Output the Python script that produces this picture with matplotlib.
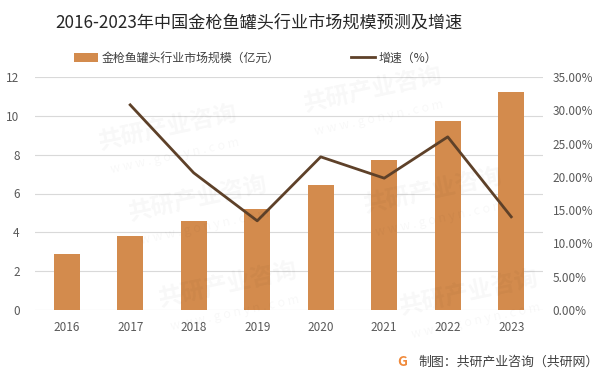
import matplotlib
matplotlib.use("Agg")
import matplotlib.pyplot as plt
import numpy as np

plt.rcParams['font.family'] = ['Noto Sans CJK SC', 'DejaVu Sans']

years = ['2016', '2017', '2018', '2019', '2020', '2021', '2022', '2023']
market_size = [2.9, 3.83, 4.6, 5.22, 6.45, 7.73, 9.74, 11.2]
growth = [np.nan, 30.8, 20.6, 13.4, 23.0, 19.8, 26.0, 14.0]

bar_color = '#D38B4D'
line_color = '#5E4129'
tick_color = '#595959'

fig = plt.figure(figsize=(6.02, 3.75), dpi=100)

# faint watermark
wm_pos = [(0.28, 0.66), (0.62, 0.76), (0.33, 0.47), (0.72, 0.49), (0.38, 0.24), (0.78, 0.22)]
for x, y in wm_pos:
    fig.text(x, y, '共研产业咨询', fontsize=17, fontweight='bold', color='#000000',
             alpha=0.03, rotation=12, ha='center', va='center')
    fig.text(x + 0.01, y - 0.075, 'w w w . g o n y n . c o m', fontsize=9, color='#000000',
             alpha=0.03, rotation=12, ha='center', va='center')

ax = fig.add_axes([0.058, 0.173, 0.844, 0.622])
x = np.arange(len(years))
ax.bar(x, market_size, width=0.41, color=bar_color, zorder=2,
       label='金枪鱼罐头行业市场规模（亿元）')
ax.set_xlim(-0.5, len(years) - 0.5)
ax.set_ylim(0, 12)
ax.set_yticks(np.arange(0, 13, 2))
ax.grid(axis='y', color='#D9D9D9', linewidth=0.8, zorder=0)
ax.set_axisbelow(True)
for s in ax.spines.values():
    s.set_visible(False)
ax.set_xticks(x)
ax.set_xticklabels(years)
ax.tick_params(length=0, colors=tick_color, labelsize=8.5)
ax.tick_params(axis='x', pad=8)
ax.tick_params(axis='y', pad=11)

ax2 = ax.twinx()
ax2.plot(x, growth, color=line_color, linewidth=2.0, zorder=3, label='增速（%）')
ax2.set_ylim(0, 35)
ax2.set_yticks(np.arange(0, 36, 5))
ax2.set_yticklabels([f'{v:.2f}%' for v in np.arange(0, 36, 5)])
for s in ax2.spines.values():
    s.set_visible(False)
ax2.tick_params(length=0, colors=tick_color, labelsize=8.5, pad=7)

fig.text(0.43, 0.94, '2016-2023年中国金枪鱼罐头行业市场规模预测及增速',
         fontsize=12.3, color='#262626', ha='center', va='center')

h1, l1 = ax.get_legend_handles_labels()
h2, l2 = ax2.get_legend_handles_labels()
fig.legend(h1 + h2, l1 + l2, loc='center', bbox_to_anchor=(0.425, 0.845), ncol=2,
           frameon=False, fontsize=8.6, columnspacing=6, handlelength=2.0,
           handletextpad=0.3, labelcolor='#404040')

fig.text(0.668, 0.035, 'G', fontsize=10, fontweight='bold', color='#F08A3C',
         ha='center', va='center')
fig.text(0.695, 0.035, '制图：共研产业咨询（共研网）', fontsize=9.3, color='#404040',
         ha='left', va='center')

fig.savefig('out.png', dpi=100)
